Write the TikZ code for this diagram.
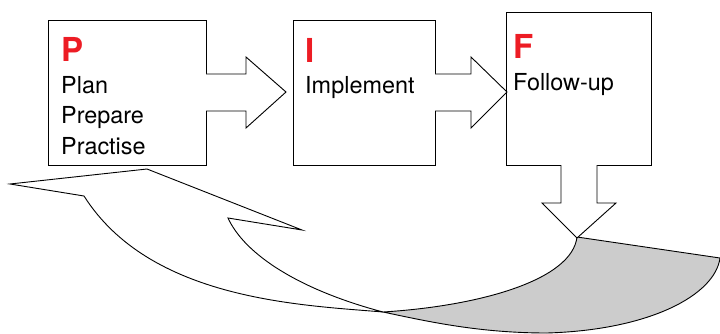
\documentclass[tikz,border=0pt]{standalone}
\usepackage{fontspec}
\setmainfont{TeX Gyre Heros}
\definecolor{pifred}{RGB}{237,28,36}
\definecolor{backgray}{RGB}{204,204,204}
\begin{document}
\begin{tikzpicture}[x=1pt,y=-1pt,line join=miter,
  box/.style={draw=black,line width=0.9pt,fill=white,inner sep=0pt,outer sep=0pt,anchor=north west},
  lbl/.style={anchor=base west,inner sep=0pt,font=\fontsize{23.4}{27}\selectfont},
  big/.style={anchor=base west,inner sep=0pt,text=pifred,font=\fontsize{33}{36}\selectfont\bfseries},
  edge/.style={draw=black,line width=0.9pt}]
\useasboundingbox (0,0) rectangle (720,334);
\fill[white] (0,0) rectangle (720,334);

% back arrow (white band)
\path[edge,fill=white] (10,184) -- (147,169) -- (302,230) -- (228,218)
  .. controls (245,255) and (300,290) .. (383,312)
  .. controls (300,305) and (150,300) .. (84,196) -- cycle;
% gray twisted part
\path[edge,fill=backgray] (383,312) .. controls (480,306) and (572,280) .. (577,237)
  -- (720,258) .. controls (715,295) and (650,330) .. (547,333)
  .. controls (480,333) and (430,322) .. (383,312) -- cycle;

% boxes
\node[box,minimum width=158pt,minimum height=145pt] (P) at (48,20) {};
\node[box,minimum width=142pt,minimum height=145pt] (I) at (293,20) {};
\node[box,minimum width=145pt,minimum height=153pt] (F) at (506,12) {};

% block arrows
\coordinate (pa1) at (206,74); \coordinate (pa2) at (206,111);
\fill[white] (205,74) -- (246,74) -- (246,57) -- (286,92) -- (246,128) -- (246,111) -- (205,111) -- cycle;
\draw[edge] (pa1) -- (246,74) -- (246,57) -- (286,92) -- (246,128) -- (246,111) -- (pa2);

\coordinate (ia1) at (435,74); \coordinate (ia2) at (435,111);
\fill[white] (434,74) -- (471,74) -- (471,57) -- (507,92) -- (471,128) -- (471,111) -- (434,111) -- cycle;
\draw[edge] (ia1) -- (471,74) -- (471,57) -- (507,92) -- (471,128) -- (471,111) -- (ia2);

\coordinate (fa1) at (561,165); \coordinate (fa2) at (597,165);
\fill[white] (561,164) -- (561,203) -- (542,203) -- (577,238) -- (616,203) -- (597,203) -- (597,164) -- cycle;
\draw[edge] (fa1) -- (561,203) -- (542,203) -- (577,238) -- (616,203) -- (597,203) -- (fa2);

% texts
\node[big] (tP) at (61,62) {P};
\node[lbl] (t1) at (61,94) {Plan};
\node[lbl] (t2) at (61,124) {Prepare};
\node[lbl] (t3) at (61,154) {Practise};
\node[big] (tI) at (305,63) {I};
\node[lbl] (t4) at (305,94) {Implement};
\node[big] (tF) at (513,59) {F};
\node[lbl] (t5) at (513,91) {Follow-up};
\end{tikzpicture}
\end{document}
